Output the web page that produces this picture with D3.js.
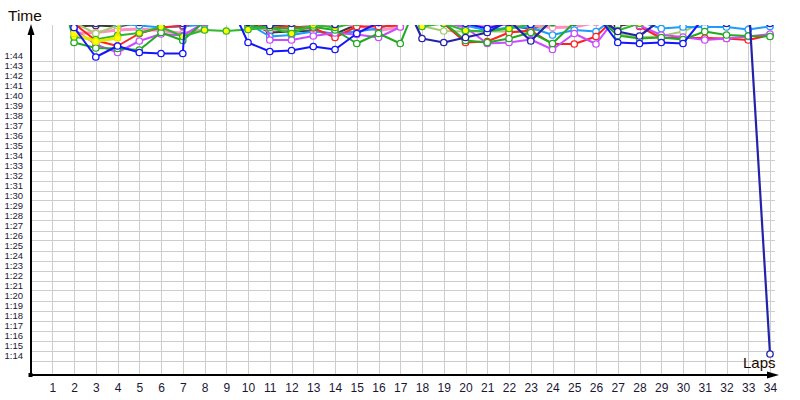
<!DOCTYPE html>
<html>
<head>
<meta charset="utf-8">
<script src="https://cdn.jsdelivr.net/npm/d3@7/dist/d3.min.js"></script>
<style>
  html, body { margin: 0; padding: 0; background: #ffffff; }
  svg { display: block; }
  text { font-family: "Liberation Sans", Arial, sans-serif; }
</style>
</head>
<body>
<svg id="chart" width="800" height="400"></svg>
<script>
// ---------- data (lap times in seconds) ----------
const laps = [1,2,3,4,5,6,7,8,9,10,11,12,13,14,15,16,17,18,19,20,21,22,23,24,25,26,27,28,29,30,31,32,33,34];
const yTickSeconds = [74,75,76,77,78,79,80,81,82,83,84,85,86,87,88,89,90,91,92,93,94,95,96,97,98,99,100,101,102,103,104];

const lightgreyTimes = [115,106.95,107.1,106.9,107.2,107.4,107.3,107.5,112,107.4,106.6,106.5,106.7,107.2,107.4,107.5,110.5,111,107.5,107.3,107.2,107.4,107.1,107.5,107.6,107.9,107.3,107.5,107.6,107.7,107.6,107.5,107.7,107.6];
const darkgreyTimes = [115,106.9,107.0,106.9,107.3,107.1,107.4,107.2,112,107.4,106.3,106.4,106.45,106.15,107.1,107.3,107.5,111,107.4,107.2,107.0,107.1,106.6,107.4,107.5,107.8,106.95,107.3,107.5,107.6,107.5,107.4,107.6,107.5];
const pinkTimes = [115,106.2,106.3,106.55,106.65,106.5,106.2,106.6,112,106.9,106.6,106.7,107.0,107.2,107.0,106.5,106.85,111,107.3,107.1,106.9,107.2,107.0,106.8,106.85,107.3,108,107.3,107.4,107.5,107.6,107.5,107.7,107.6];
const lightgreenTimes = [115,107.3,106.2,107.0,107.4,107.2,107.5,107.3,112,107.4,107.3,107.2,107.4,107.5,107.3,107.6,110.5,106.95,106.45,106.4,106.4,106.4,106.35,107.2,107.5,107.8,106.2,105.8,105.95,106.4,107.3,107.5,107.6,107.4];
const lightblueTimes = [115,107.5,107.3,107.2,107.0,106.8,106.9,107.1,112,107.2,105.9,106.05,106.4,106.2,106.4,106.7,107.4,111,107.4,107.0,106.5,106.8,106.8,106.05,106.55,106.4,108,107.4,106.7,106.85,106.85,106.85,106.6,106.9];
const redTimes = [115,107.2,105.5,104.95,106.2,106.8,107.0,107.4,112,107.2,107.0,106.9,106.75,105.8,106.9,106.9,107.0,111,107.2,105.3,105.4,106.3,106.5,105.15,105.15,105.9,108,106.9,105.75,105.75,105.75,105.7,105.55,106.05];
const violetTimes = [115,106.6,105.1,104.3,105.45,106.15,106.0,107.3,112,116,105.55,105.55,105.95,106.25,106.1,105.8,106.85,111,107.3,106.8,105.2,105.3,105.6,104.6,106.2,105.15,108,107.0,106.05,105.85,105.55,105.7,105.9,106.15];
const greenTimes = [114,105.3,104.75,104.7,104.55,106.3,105.5,107.4,109,106.95,106.8,106.7,106.85,106.55,105.2,106.2,105.2,110.5,107.3,105.5,105.3,105.7,106.3,105.2,107.3,107.9,106.0,105.7,105.8,105.6,106.4,106.05,105.95,105.9];
const greenYellowTimes = [115,105.85,105.6,106.0,106.25,106.85,105.9,106.55,106.45,106.6,106.8,106.2,107.05,106.8,107.3,107.5,110,106.9,107.2,106.5,106.4,106.7,107.1,107.3,107.5,107.9,106.5,107.2,107.4,107.6,107.5,107.7,107.6,107.5];
const yellowTimes = [116,106.2,105.4,105.75,130,112,107.6,107.8,112,107.4,107.2,107.5,107.3,107.6,107.5,107.7,110,111,107.6,107.5,107.7,107.6,107.8,107.6,107.7,108,107.8,107.7,107.8,107.9,107.8,107.7,107.9,107.8];
const navyTimes = [117,107.4,107.2,107.5,107.3,107.6,107.2,107.5,118,107.3,107.0,107.2,107.4,107.1,107.5,107.3,110.4,105.7,105.3,105.8,106.3,107.5,105.45,107.6,107.4,108,106.4,105.95,107.6,107.5,107.4,107.2,109.95,74.15];
const blueTimes = [116,106.8,103.85,104.95,104.3,104.2,104.2,135,110,105.3,104.4,104.5,104.9,104.6,106.2,107.3,107.6,111,107.5,107.2,106.7,107.3,107.1,107.4,107.6,108.2,105.3,105.2,105.3,105.2,107.9,107.6,107.4,107.2];

const seriesNames = ["lightgrey","darkgrey","pink","lightgreen","lightblue","red","violet","green","greenYellow","yellow","navy","blue"];
const seriesValues = [lightgreyTimes,darkgreyTimes,pinkTimes,lightgreenTimes,lightblueTimes,redTimes,violetTimes,greenTimes,greenYellowTimes,yellowTimes,navyTimes,blueTimes];
const seriesColors = ["#a8a8a8","#383838","#ff8fbf","#a6cc72","#1e9bff","#ff2020","#c94cff","#22aa22","#2db82d","#e8e800","#2323aa","#1414ff"];
const seriesFills = ["#ffffff","#ffffff","#ffffff","#ffffff","#ffffff","#ffffff","#ffffff","#ffffff","#ffff00","#ffff00","#ffffff","#ffffff"];
const seriesWidths = [2,2,3,2,2,2,2,2,2,3,2.2,2];

// ---------- layout ----------
const svg = d3.select("#chart");
const plotLeft = 31, plotRight = 775, plotTop = 25, plotBottom = 375;

const x = d3.scaleLinear().domain([1, 34]).range([52.3, 770]);
const y = d3.scaleLinear().domain([74, 107]).range([355.5, 25.5]);

const fmt = s => Math.floor(s / 60) + ":" + String(s % 60).padStart(2, "0");

// grid
const grid = svg.append("g").attr("stroke", "#cdcdcd").attr("stroke-width", 1).attr("shape-rendering", "crispEdges");
grid.selectAll("line.v").data(laps).join("line")
  .attr("class", "v")
  .attr("x1", d => Math.round(x(d)) + 0.5).attr("x2", d => Math.round(x(d)) + 0.5)
  .attr("y1", plotTop).attr("y2", plotBottom);
grid.selectAll("line.h").data(yTickSeconds).join("line")
  .attr("class", "h")
  .attr("x1", plotLeft).attr("x2", plotRight)
  .attr("y1", d => Math.round(y(d - 0.5)) + 0.5).attr("y2", d => Math.round(y(d - 0.5)) + 0.5);

// series
svg.append("clipPath").attr("id", "plotClip")
  .append("rect").attr("x", plotLeft).attr("y", plotTop).attr("width", 790 - plotLeft).attr("height", plotBottom - plotTop);

const plot = svg.append("g").attr("clip-path", "url(#plotClip)");
const line = d3.line().x((d, i) => x(laps[i])).y(d => y(d));

seriesValues.forEach((vals, si) => {
  const g = plot.append("g").attr("class", "series-" + seriesNames[si]);
  g.append("path")
    .attr("d", line(vals))
    .attr("fill", "none")
    .attr("stroke", seriesColors[si])
    .attr("stroke-width", seriesWidths[si])
    .attr("stroke-linejoin", "round");
  g.selectAll("circle").data(vals).join("circle")
    .attr("cx", (d, i) => x(laps[i]))
    .attr("cy", d => y(d))
    .attr("r", 3.2)
    .attr("fill", seriesFills[si])
    .attr("stroke", seriesColors[si])
    .attr("stroke-width", 1.3);
});

// axes labels via d3 axes
const yAxis = svg.append("g").attr("transform", `translate(${plotLeft},0)`)
  .call(d3.axisLeft(y).tickValues(yTickSeconds).tickFormat(fmt).tickSize(0).tickPadding(8));
yAxis.select(".domain").remove();
yAxis.selectAll("text").attr("font-size", "9.5px").attr("fill", "#1c1636")
  .attr("font-family", "'Liberation Sans', Arial, sans-serif");

const xAxis = svg.append("g").attr("transform", `translate(0,${plotBottom})`)
  .call(d3.axisBottom(x).tickValues(laps).tickFormat(d3.format("d")).tickSize(0).tickPadding(8));
xAxis.select(".domain").remove();
xAxis.selectAll("text").attr("font-size", "12px").attr("fill", "#1c1636")
  .attr("font-family", "'Liberation Sans', Arial, sans-serif");

// axis lines and arrows
svg.append("line").attr("x1", plotLeft).attr("x2", plotLeft).attr("y1", plotBottom + 1).attr("y2", 30)
  .attr("stroke", "#000").attr("stroke-width", 2);
svg.append("path").attr("d", `M${plotLeft},24 L${plotLeft - 3.5},35 L${plotLeft + 3.5},35 Z`).attr("fill", "#000");
svg.append("line").attr("x1", plotLeft - 1).attr("x2", 772).attr("y1", plotBottom).attr("y2", plotBottom)
  .attr("stroke", "#000").attr("stroke-width", 2);
svg.append("path").attr("d", `M779,${plotBottom} L767,${plotBottom - 3.5} L767,${plotBottom + 3.5} Z`).attr("fill", "#000");
svg.append("rect").attr("x", plotLeft - 2.5).attr("y", plotBottom - 2).attr("width", 4).attr("height", 4).attr("fill", "#000");

// titles
svg.append("text").attr("x", 8).attr("y", 21).attr("font-size", "15.5px").attr("fill", "#1a0800").text("Time");
svg.append("text").attr("x", 743).attr("y", 368).attr("font-size", "15px").attr("fill", "#1a0800").text("Laps");
</script>
</body>
</html>
